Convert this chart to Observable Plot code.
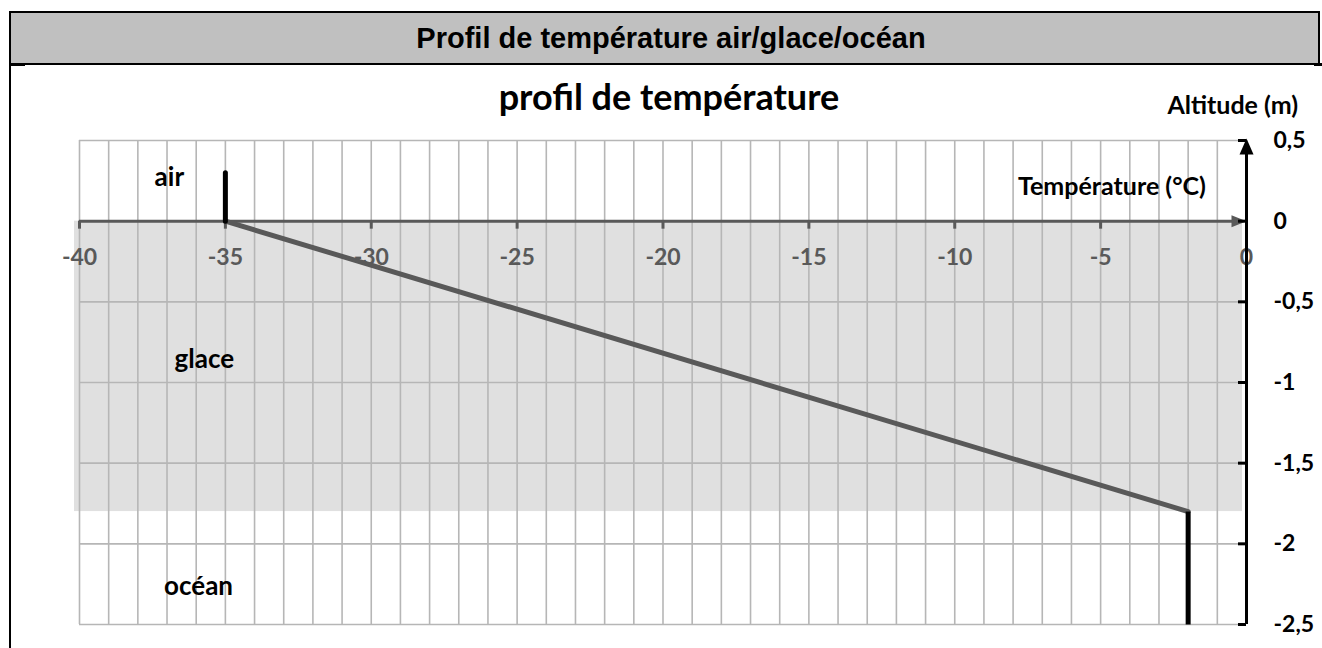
<!DOCTYPE html>
<html>
<head>
<meta charset="utf-8">
<script src="https://cdn.jsdelivr.net/npm/d3@7"></script>
<script src="https://cdn.jsdelivr.net/npm/@observablehq/plot@0.6"></script>
<style>
  html, body { margin: 0; padding: 0; background: #fff; }
  body { position: relative; width: 1322px; height: 648px; overflow: hidden; }
  #chart { position: absolute; left: 0; top: 0; }
  #bar { position: absolute; left: 9px; top: 11px; width: 1311px; height: 54px; box-sizing: border-box;
         border: 2px solid #000; background: #c0c0c0; text-align: center; padding-left: 13px;
         font: bold 29px "Liberation Sans", Arial, sans-serif; line-height: 51px; color: #000; }
  #vline { position: absolute; left: 9px; top: 11px; width: 2px; height: 640px; background: #000; }
  #tickL { position: absolute; left: 9px; top: 63px; width: 16px; height: 3px; background: #000; }
  #tickR { position: absolute; left: 1314px; top: 63px; width: 8px; height: 3px; background: #000; }
  #ctitle { position: absolute; left: 0; width: 1338px; top: 78px; text-align: center;
            font: bold 36px Lato, "Open Sans", sans-serif; line-height: 36px; color: #000; }
</style>
</head>
<body>
<div id="chart"></div>
<div id="bar">Profil de température air/glace/océan</div>
<div id="vline"></div>
<div id="tickL"></div>
<div id="tickR"></div>
<div id="ctitle">profil de température</div>
<script>
// ---- data ----
const profileTemp = [-35, -2];        // glace: linear profile
const profileAlt  = [0, -1.8];
const airTemp = [-35, -35];           // air segment
const airAlt  = [0, 0.3];
const oceanTemp = [-2, -2];           // ocean segment
const oceanAlt  = [-1.8, -2.5];
const iceTemp = [-40, 0];             // ice layer extent
const iceAlt  = [0, -1.8];
const xTicks = [-40, -35, -30, -25, -20, -15, -10, -5, 0];
const xTickLabels = ["-40", "-35", "-30", "-25", "-20", "-15", "-10", "-5", "0"];
const yTicks = [0.5, 0, -0.5, -1, -1.5, -2, -2.5];
const yTickLabels = ["0,5", "0", "-0,5", "-1", "-1,5", "-2", "-2,5"];
const zoneNames = ["air", "glace", "océan"];
const zoneTemp = [-36.92, -35.72, -35.92];
const zoneAlt = [0.268, -0.856, -2.263];
const axisTitles = ["Température (°C)", "Altitude (m)"];
const axisTitleTemp = [-4.61, -0.47];
const axisTitleAlt = [0.214, 0.713];

const gridTemps = d3.range(-40, 1, 1);
const gridAlts = yTicks;

const FONT = "Lato, 'Open Sans', sans-serif";
const line = (xs, ys) => xs.map((x, i) => ({x, y: ys[i]}));

const arrowRight = {draw(ctx) { ctx.moveTo(0, 0); ctx.lineTo(-15, -6); ctx.lineTo(-15, 6); ctx.closePath(); }};
const arrowUp = {draw(ctx) { ctx.moveTo(0, -2); ctx.lineTo(-7, 14); ctx.lineTo(7, 14); ctx.closePath(); }};

const chart = Plot.plot({
  width: 1322,
  height: 648,
  marginLeft: 79,
  marginRight: 76,
  marginTop: 140,
  marginBottom: 24,
  x: {domain: [-40, 0], axis: null},
  y: {domain: [-2.5, 0.5], axis: null},
  style: {background: "transparent", overflow: "visible"},
  marks: [
    // ice layer
    Plot.rect([0], {x1: () => iceTemp[0], x2: () => iceTemp[1], y1: () => iceAlt[0], y2: () => iceAlt[1],
      fill: "#e0e0e0", insetLeft: -5, insetRight: 4}),
    // grid
    Plot.ruleX(gridTemps, {x: d => d, y1: () => -2.5, y2: () => 0.5, stroke: "#b6b6b6", strokeWidth: 1.6}),
    Plot.ruleY(gridAlts, {y: d => d, x1: () => -40, x2: () => 0, stroke: "#b6b6b6", strokeWidth: 1.6}),
    // x axis at altitude 0
    Plot.ruleY([0], {y: d => d, x1: () => -40, x2: () => -0.3, stroke: "#595959", strokeWidth: 3}),
    Plot.ruleX(xTicks.slice(0, -1), {x: d => d, y1: () => 0, y2: () => 0, insetBottom: -8, stroke: "#595959", strokeWidth: 3}),
    Plot.dot([0], {x: () => 0, y: () => 0, symbol: arrowRight, fill: "#595959", stroke: "none"}),
    Plot.text(xTicks, {x: d => d, y: () => 0, text: (d, i) => xTickLabels[i], dy: 36,
      fill: "#595959", fontSize: 23, fontWeight: "bold", fontFamily: FONT}),
    // y axis at temperature 0
    Plot.ruleX([0], {x: d => d, y1: () => -2.5, y2: () => 0.45, stroke: "#000", strokeWidth: 3}),
    Plot.ruleY(yTicks, {y: d => d, x1: () => 0, x2: () => 0, insetLeft: -8, stroke: "#000", strokeWidth: 3}),
    Plot.dot([0], {x: () => 0, y: () => 0.5, symbol: arrowUp, fill: "#000", stroke: "none"}),
    Plot.text(yTicks, {x: () => 0, y: d => d, text: (d, i) => yTickLabels[i], dx: 27, textAnchor: "start",
      fill: "#000", fontSize: 23, fontWeight: "bold", fontFamily: FONT}),
    // profile
    Plot.line(line(profileTemp, profileAlt), {x: "x", y: "y", stroke: "#595959", strokeWidth: 5, strokeLinecap: "round"}),
    Plot.line(line(airTemp, airAlt), {x: "x", y: "y", stroke: "#000", strokeWidth: 5, strokeLinecap: "round"}),
    Plot.line(line(oceanTemp, oceanAlt), {x: "x", y: "y", stroke: "#000", strokeWidth: 5, strokeLinecap: "butt"}),
    // zone labels
    Plot.text(zoneNames, {x: (d, i) => zoneTemp[i], y: (d, i) => zoneAlt[i], text: d => d,
      fill: "#000", fontSize: 26, fontWeight: "bold", fontFamily: FONT}),
    // axis titles
    Plot.text(axisTitles, {x: (d, i) => axisTitleTemp[i], y: (d, i) => axisTitleAlt[i], text: d => d,
      fill: "#000", fontSize: 25, fontWeight: "bold", fontFamily: FONT})
  ]
});
document.getElementById("chart").appendChild(chart);
</script>
</body>
</html>
